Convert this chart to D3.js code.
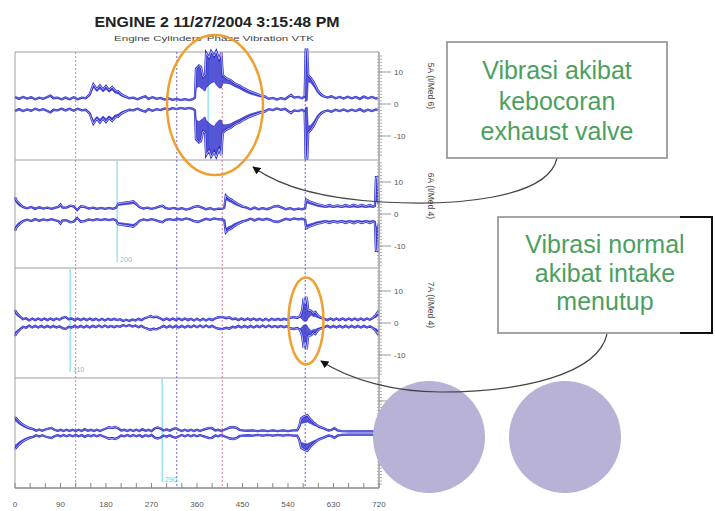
<!DOCTYPE html>
<html><head><meta charset="utf-8">
<script src="https://cdn.jsdelivr.net/npm/d3@7"></script>
<style>html,body{margin:0;padding:0;background:#fff;}svg{display:block;font-family:"Liberation Sans",Arial,sans-serif;}</style>
</head><body><svg id="c" width="715" height="511"></svg>
<script>
// ---------- data ----------
const title = "ENGINE 2 11/27/2004 3:15:48 PM";
const subtitle = "Engine Cylinders' Phase Vibration VTK";
const xTicks = [0, 90, 180, 270, 360, 450, 540, 630, 720];
const yTicks = [10, 0, -10];
const channelLabels = ["5A (I/Med 6)", "6A (I/Med 4)", "7A (I/Med 4)", ""];
const redMarkers = [120, 410];
const blueMarkers = [320, 574];
const cursorAngles = [382, 202, 109, 291];
const cursorLabels = ["380", "200", "110", "290"];
// envelope breakpoints per channel: [crank angle, outer amplitude, inner amplitude]
const ch1 = [[0,2.2,2.2],[8,1.6,1.6],[16,2.2,2.2],[24,1.7,1.7],[32,2.1,2.1],[40,1.5,1.5],[48,2.0,2.0],[56,1.6,1.6],[64,2.2,2.2],[70,2.6,2.6],[76,1.8,1.8],[84,2.0,2.0],[92,1.5,1.5],[100,2.0,2.0],[108,1.5,1.5],[116,2.1,2.1],[124,1.5,1.5],[132,2.0,2.0],[140,1.8,1.8],[148,3.0,2.6],[155,6.2,5.2],[162,4.6,3.9],[168,5.8,4.8],[174,4.5,3.8],[180,5.6,4.6],[186,4.4,3.7],[192,5.3,4.4],[198,4.2,3.4],[204,4.0,3.2],[210,3.0,2.5],[218,2.4,2.0],[226,1.8,1.8],[234,2.0,2.0],[242,1.5,1.5],[250,2.0,2.0],[258,2.4,2.4],[264,1.6,1.6],[272,2.1,2.1],[280,1.6,1.6],[288,1.9,1.9],[296,1.4,1.4],[304,1.7,1.7],[312,1.3,1.3],[320,1.6,1.6],[328,1.2,1.2],[336,1.5,1.5],[344,1.2,1.2],[352,1.5,1.5],[356,2.0,2.0],[358,11.0,5.0],[364,12.0,5.5],[368,11.5,5.0],[372,8.5,4.5],[376,9.0,4.0],[378,16.0,5.0],[384,14.5,6.0],[388,16.5,6.5],[394,15.0,7.0],[398,16.5,6.0],[404,14.0,5.0],[408,16.0,5.0],[411,9.0,6.5],[418,8.0,6.5],[426,7.5,6.2],[434,6.5,5.5],[444,5.8,4.8],[454,4.8,3.9],[464,4.0,3.2],[474,3.4,2.7],[484,2.8,2.3],[494,2.4,2.0],[502,1.6,1.6],[510,1.9,1.9],[518,1.4,1.4],[526,1.8,1.8],[534,1.5,1.5],[540,2.2,2.2],[546,2.8,2.4],[552,2.0,2.0],[560,2.2,2.2],[568,1.8,1.8],[573,2.5,2.5],[575,17,1],[578,17,1],[580,9,7],[586,8,6.5],[592,6.5,5.2],[598,4.5,3.6],[604,3.2,2.6],[610,2.5,2.2],[618,2.0,2.0],[626,2.4,2.4],[634,1.8,1.8],[642,2.2,2.2],[650,1.7,1.7],[658,2.3,2.3],[666,1.8,1.8],[674,2.2,2.2],[682,1.6,1.6],[690,2.3,2.3],[698,1.8,1.8],[706,2.2,2.2],[714,1.7,1.7],[720,2.0,2.0]];
const ch2 = [[0,5.2,4.2],[4,4.0,3.2],[10,3.0,2.4],[16,2.2,2.0],[24,1.8,1.8],[32,2.2,2.2],[40,1.6,1.6],[48,2.1,2.1],[56,1.7,1.7],[64,2.0,2.0],[72,1.6,1.6],[80,2.0,2.0],[86,2.2,2.2],[90,3.0,2.6],[94,2.0,2.0],[102,2.0,2.0],[110,2.6,2.4],[116,2.4,2.2],[123,1.2,1.2],[130,2.4,2.2],[138,2.2,2.0],[146,1.7,1.7],[154,2.0,2.0],[162,1.6,1.6],[170,1.9,1.9],[178,1.6,1.6],[186,1.9,1.9],[194,1.6,1.6],[200,2.0,2.0],[204,3.2,2.7],[212,3.4,2.8],[220,3.6,3.0],[228,3.8,3.1],[234,4.0,3.3],[240,3.2,2.7],[246,2.2,2.0],[254,1.7,1.7],[262,2.0,2.0],[270,1.6,1.6],[278,1.9,1.9],[286,2.4,2.2],[292,2.6,2.2],[298,1.8,1.8],[306,1.6,1.6],[314,1.9,1.9],[322,1.5,1.5],[330,1.8,1.8],[338,1.4,1.4],[346,1.7,1.7],[354,2.2,2.0],[362,2.5,2.2],[370,2.0,2.0],[378,1.5,1.5],[386,1.8,1.8],[394,1.4,1.4],[402,1.7,1.7],[410,1.6,1.6],[414,2.0,2.0],[417,5.8,4.6],[422,5.0,4.0],[428,4.5,3.6],[434,3.8,3.0],[442,3.0,2.5],[450,2.4,2.0],[458,2.0,2.0],[466,1.5,1.5],[474,2.0,2.0],[482,1.5,1.5],[490,1.8,1.8],[498,1.5,1.5],[506,1.9,1.9],[512,2.4,2.2],[520,2.5,2.2],[528,2.0,2.0],[536,1.5,1.5],[544,1.8,1.8],[552,1.4,1.4],[560,1.7,1.7],[568,1.5,1.5],[574,1.8,1.8],[576,4.5,3.5],[582,4.0,3.2],[590,3.5,2.8],[598,3.0,2.4],[606,2.8,2.2],[614,2.4,2.0],[622,2.8,2.2],[630,2.3,2.0],[638,2.7,2.2],[646,2.3,2.0],[654,2.8,2.2],[662,2.4,2.0],[670,2.9,2.2],[678,2.4,2.0],[686,2.8,2.2],[694,2.4,2.0],[702,2.8,2.2],[708,2.4,2.0],[712,2.6,2.2],[714,11.5,4.0],[717,11.5,4.0],[720,3.0,2.0]];
const ch3 = [[0,4.0,3.0],[4,3.0,2.3],[10,2.0,1.7],[16,1.2,1.2],[22,1.5,1.5],[28,0.8,0.8],[34,1.4,1.4],[40,0.9,0.9],[46,1.4,1.4],[52,0.9,0.9],[58,1.4,1.4],[64,0.9,0.9],[70,1.4,1.4],[76,0.9,0.9],[82,1.4,1.4],[88,1.0,1.0],[94,1.6,1.6],[100,1.9,1.7],[106,1.2,1.2],[112,1.4,1.4],[118,0.9,0.9],[124,1.4,1.4],[130,0.9,0.9],[136,1.4,1.4],[142,0.9,0.9],[148,1.4,1.4],[154,0.9,0.9],[160,1.3,1.3],[166,0.8,0.8],[172,1.3,1.3],[178,0.8,0.8],[184,1.3,1.3],[190,0.9,0.9],[196,1.3,1.3],[202,0.9,0.9],[208,1.2,1.2],[214,0.6,0.6],[220,1.0,1.0],[226,0.6,0.6],[232,1.1,1.1],[238,0.8,0.8],[244,1.3,1.3],[250,0.9,0.9],[256,1.5,1.5],[262,1.8,1.6],[268,2.2,1.9],[274,1.8,1.6],[280,2.0,1.8],[288,1.4,1.4],[294,0.9,0.9],[300,1.4,1.4],[306,0.9,0.9],[312,1.4,1.4],[318,0.9,0.9],[324,1.4,1.4],[330,0.9,0.9],[336,1.4,1.4],[342,0.9,0.9],[348,1.3,1.3],[354,0.8,0.8],[360,1.3,1.3],[366,0.8,0.8],[372,1.3,1.3],[378,0.8,0.8],[384,1.3,1.3],[390,0.9,0.9],[396,1.4,1.4],[402,1.8,1.6],[410,1.9,1.7],[418,1.5,1.5],[424,1.8,1.6],[430,1.2,1.2],[436,1.4,1.4],[442,0.9,0.9],[448,1.4,1.4],[454,0.9,0.9],[460,1.4,1.4],[466,0.9,0.9],[472,1.4,1.4],[478,0.9,0.9],[484,1.3,1.3],[490,0.8,0.8],[496,1.3,1.3],[502,0.8,0.8],[508,1.3,1.3],[514,0.9,0.9],[520,1.3,1.3],[526,0.9,0.9],[532,1.3,1.3],[538,1.0,1.0],[544,1.7,1.5],[552,1.9,1.6],[558,1.6,1.4],[564,2.2,1.8],[568,4.0,1.2],[571,7.8,0.6],[574,6.0,0.6],[577,8.2,0.6],[580,4.0,1.5],[586,3.8,2.5],[590,3.0,2.0],[594,3.5,2.0],[600,2.2,1.6],[606,1.6,1.4],[612,1.3,1.3],[618,0.9,0.9],[624,1.4,1.4],[630,0.9,0.9],[636,1.4,1.4],[642,0.9,0.9],[648,1.4,1.4],[654,0.9,0.9],[660,1.4,1.4],[666,0.9,0.9],[672,1.4,1.4],[678,0.9,0.9],[684,1.4,1.4],[690,0.9,0.9],[696,1.4,1.4],[702,1.0,1.0],[708,1.6,1.4],[714,2.6,1.8],[720,4.0,2.2]];
const ch4 = [[0,5.0,3.8],[3,4.5,3.5],[8,3.6,2.8],[14,2.8,2.2],[20,2.2,1.7],[28,1.6,1.2],[36,1.2,1.2],[42,0.7,0.7],[48,1.1,1.1],[54,0.7,0.7],[60,1.1,1.1],[66,1.4,1.3],[72,1.6,1.4],[78,1.0,1.0],[84,0.7,0.7],[90,1.0,1.0],[96,0.6,0.6],[102,1.0,1.0],[108,0.6,0.6],[114,1.0,1.0],[120,0.6,0.6],[126,1.0,1.0],[132,0.6,0.6],[138,1.2,1.2],[144,0.7,0.7],[150,1.0,1.0],[156,0.6,0.6],[162,1.0,1.0],[168,0.6,0.6],[174,1.0,1.0],[180,1.4,1.3],[186,1.8,1.5],[192,1.6,1.4],[198,1.9,1.6],[204,1.5,1.3],[210,0.8,0.8],[216,1.0,1.0],[222,0.6,0.6],[228,1.0,1.0],[234,0.6,0.6],[240,1.0,1.0],[246,0.6,0.6],[252,1.2,1.2],[258,0.7,0.7],[264,1.0,1.0],[270,0.6,0.6],[276,1.4,1.3],[282,1.7,1.5],[288,1.4,1.3],[294,0.8,0.8],[300,1.2,1.2],[306,0.7,0.7],[312,1.2,1.2],[318,1.5,1.4],[324,1.0,1.0],[330,0.6,0.6],[336,1.0,1.0],[342,0.6,0.6],[348,1.0,1.0],[354,0.6,0.6],[360,1.0,1.0],[366,0.6,0.6],[372,1.0,1.0],[378,1.3,1.2],[384,1.6,1.4],[390,1.5,1.3],[396,0.8,0.8],[402,1.0,1.0],[408,0.6,0.6],[414,1.0,1.0],[420,1.4,1.3],[426,1.8,1.5],[432,1.9,1.6],[438,1.6,1.4],[444,1.0,1.0],[450,0.8,0.8],[460,0.7,0.7],[470,0.8,0.8],[480,0.6,0.6],[490,0.8,0.8],[500,0.6,0.6],[510,0.8,0.8],[520,0.6,0.6],[530,0.8,0.8],[540,0.6,0.6],[550,0.8,0.8],[558,0.8,0.8],[562,2.0,1.4],[566,4.6,3.0],[572,5.2,3.2],[578,5.6,3.4],[584,4.4,3.0],[590,3.4,2.5],[596,2.6,2.1],[602,2.0,1.6],[608,1.6,1.4],[614,1.2,1.2],[620,0.8,0.8],[626,1.0,1.0],[632,1.5,1.4],[638,0.8,0.8],[646,0.6,0.6],[660,0.5,0.5],[680,0.5,0.5],[700,0.5,0.5],[720,0.5,0.5]];
const channels = [ch1, ch2, ch3, ch4];
const note1 = ["Vibrasi akibat", "kebocoran", "exhaust valve"];
const note2 = ["Vibrasi normal", "akibat intake", "menutup"];

// ---------- layout ----------
const svg = d3.select("#c");
const L = 15, R = 379, TOP = 52, BOT = 488;
const panelTops = [52, 160, 268, 378];
const panelBots = [160, 268, 378, 488];
const centers = [104, 214, 323, 433];
const x = d3.scaleLinear().domain([0, 720]).range([L, R]);
const blue = "#2b2bcc";
const green = "#4c9f5f";

svg.append("text").attr("x", 217).attr("y", 27).attr("text-anchor", "middle")
  .attr("font-size", 15.5).attr("font-weight", "bold").attr("fill", "#222")
  .attr("textLength", 245).attr("lengthAdjust", "spacingAndGlyphs").text(title);
svg.append("text").attr("x", 214).attr("y", 41).attr("text-anchor", "middle")
  .attr("font-size", 7.5).attr("fill", "#444")
  .attr("textLength", 200).attr("lengthAdjust", "spacingAndGlyphs").text(subtitle);

// frame
const frame = svg.append("g").attr("stroke", "#a0a0a0").attr("fill", "none");
frame.append("line").attr("x1", L).attr("x2", L).attr("y1", TOP).attr("y2", BOT);
frame.append("line").attr("x1", L).attr("x2", R).attr("y1", TOP).attr("y2", TOP);
panelBots.slice(0, 3).forEach(b => frame.append("line").attr("x1", L).attr("x2", R).attr("y1", b).attr("y2", b));

// marker lines
const mk = svg.append("g").attr("stroke-dasharray", "2,2").attr("stroke-width", 1);
redMarkers.forEach(d => mk.append("line").attr("x1", x(d)).attr("x2", x(d)).attr("y1", TOP).attr("y2", BOT).attr("stroke", "#e07a8a"));
blueMarkers.forEach(d => mk.append("line").attr("x1", x(d)).attr("x2", x(d)).attr("y1", TOP).attr("y2", BOT).attr("stroke", "#6a6ad8"));

// cursors
cursorAngles.forEach((a, i) => {
  svg.append("line").attr("x1", x(a)).attr("x2", x(a)).attr("y1", panelTops[i] + 1).attr("y2", panelBots[i] - 6)
    .attr("stroke", "#6fdcea").attr("stroke-width", 1.1);
  svg.append("text").attr("x", x(a) + 3).attr("y", panelBots[i] - 6).attr("font-size", 7)
    .attr("fill", "#5fd0e0").text(cursorLabels[i]);
});

// traces
channels.forEach((data, i) => {
  const y = d3.scaleLinear().domain([-10, 10]).range([centers[i] + 32, centers[i] - 32]);
  const g = svg.append("g");
  const up = d3.area().x(d => x(d[0])).y0(d => y(d[2])).y1(d => y(d[1]));
  const dn = d3.area().x(d => x(d[0])).y0(d => y(-d[2])).y1(d => y(-d[1]));
  g.append("path").attr("d", up(data)).attr("fill", blue).attr("opacity", 0.8);
  g.append("path").attr("d", dn(data)).attr("fill", blue).attr("opacity", 0.8);
  const lu = d3.line().x(d => x(d[0])).y(d => y(d[1]));
  const ld = d3.line().x(d => x(d[0])).y(d => y(-d[1]));
  const liu = d3.line().x(d => x(d[0])).y(d => y(d[2]));
  const lid = d3.line().x(d => x(d[0])).y(d => y(-d[2]));
  [lu, ld].forEach(gen => {
    g.append("path").attr("d", gen(data)).attr("fill", "none").attr("stroke", blue).attr("stroke-width", 2.3);
    g.append("path").attr("d", gen(data)).attr("fill", "none").attr("stroke", "#fff").attr("stroke-width", 0.7).attr("opacity", 0.9);
  });
  [liu, lid].forEach(gen => g.append("path").attr("d", gen(data)).attr("fill", "none")
    .attr("stroke", blue).attr("stroke-width", 0.8).attr("opacity", 0.8));

  // right axis
  const ax = svg.append("g").attr("transform", `translate(${R},0)`);
  ax.append("line").attr("x1", 0).attr("x2", 0).attr("y1", panelTops[i]).attr("y2", panelBots[i]).attr("stroke", "#a0a0a0").attr("stroke-width", 1.5);
  d3.range(-16, 17).forEach(v => {
    if (y(v) > panelTops[i] + 1 && y(v) < panelBots[i] - 1)
      ax.append("line").attr("x1", -2).attr("x2", 3).attr("y1", y(v)).attr("y2", y(v)).attr("stroke", "#b0b0b0");
  });
  yTicks.forEach(v => {
    ax.append("line").attr("x1", 0).attr("x2", 12).attr("y1", y(v)).attr("y2", y(v)).attr("stroke", "#999");
    ax.append("text").attr("x", 15).attr("y", y(v) + 3).attr("font-size", 8).attr("fill", "#555").text(v);
  });
  if (channelLabels[i]) {
    svg.append("text").attr("transform", `translate(428,${centers[i] - 18}) rotate(90)`)
      .attr("text-anchor", "middle").attr("font-size", 8.5).attr("fill", "#444").text(channelLabels[i]);
  }
});

// bottom axis
const bx = svg.append("g");
bx.append("line").attr("x1", L).attr("x2", R).attr("y1", BOT).attr("y2", BOT).attr("stroke", "#888").attr("stroke-width", 1.5);
d3.range(0, 721, 30).forEach(d => bx.append("line").attr("x1", x(d)).attr("x2", x(d)).attr("y1", BOT).attr("y2", BOT - 5).attr("stroke", "#888"));
xTicks.forEach(d => bx.append("text").attr("x", x(d)).attr("y", 507).attr("text-anchor", "middle").attr("font-size", 8).attr("fill", "#555").text(d));

// highlight ellipses
svg.append("ellipse").attr("cx", 215).attr("cy", 105).attr("rx", 48).attr("ry", 70).attr("fill", "none").attr("stroke", "#f0a030").attr("stroke-width", 2.5);
svg.append("ellipse").attr("cx", 306).attr("cy", 321).attr("rx", 17.5).attr("ry", 43.5).attr("fill", "none").attr("stroke", "#f0a030").attr("stroke-width", 2.5);

// decorative circles
[429, 565].forEach(cx => svg.append("circle").attr("cx", cx).attr("cy", 437).attr("r", 56).attr("fill", "#b8b2d6"));

// connectors
svg.append("defs").append("marker").attr("id", "ah").attr("viewBox", "0 0 10 10").attr("refX", 9).attr("refY", 5)
  .attr("markerWidth", 8).attr("markerHeight", 8).attr("markerUnits", "userSpaceOnUse").attr("orient", "auto")
  .append("path").attr("d", "M0,0L10,5L0,10z").attr("fill", "#111");
svg.append("path").attr("d", "M557,158 C548,200 450,206 382,202 C330,199 285,190 253,167")
  .attr("fill", "none").attr("stroke", "#444").attr("stroke-width", 1.2).attr("marker-end", "url(#ah)");
svg.append("path").attr("d", "M607,334 C598,375 520,392 440,392 C395,392 350,380 321,361")
  .attr("fill", "none").attr("stroke", "#444").attr("stroke-width", 1.2).attr("marker-end", "url(#ah)");

// note boxes
svg.append("rect").attr("x", 447).attr("y", 42).attr("width", 220).attr("height", 116).attr("fill", "#fff").attr("stroke", "#888").attr("stroke-width", 1.5);
const base1 = [79, 110, 140];
note1.forEach((t, k) => svg.append("text").attr("x", 557).attr("y", base1[k]).attr("text-anchor", "middle")
  .attr("font-size", 25).attr("fill", green).text(t));
svg.append("rect").attr("x", 498).attr("y", 217).attr("width", 214).attr("height", 116).attr("fill", "#fff").attr("stroke", "#888").attr("stroke-width", 1.5);
svg.append("path").attr("d", "M680,217 H712 V333 H680").attr("fill", "none").attr("stroke", "#111").attr("stroke-width", 2);
const base2 = [253, 282, 310];
note2.forEach((t, k) => svg.append("text").attr("x", 605).attr("y", base2[k]).attr("text-anchor", "middle")
  .attr("font-size", 25).attr("fill", green).text(t));
</script></body></html>
